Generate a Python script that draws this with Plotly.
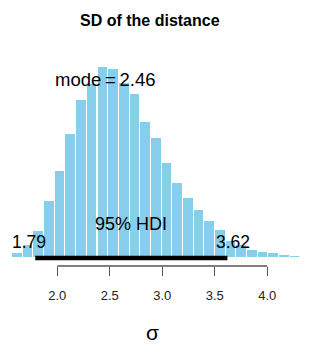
import plotly.graph_objects as go

# ---- data ----
bin_width = 0.10167
bin_left = [1.468, 1.570, 1.671, 1.773, 1.875, 1.976, 2.078, 2.180, 2.281, 2.383,
            2.485, 2.586, 2.688, 2.790, 2.891, 2.993, 3.095, 3.197, 3.298, 3.400,
            3.502, 3.603, 3.705, 3.807, 3.908, 4.010, 4.112, 4.213, 4.315, 4.417]
density = [0.006, 0.022, 0.063, 0.131, 0.277, 0.423, 0.604, 0.768, 0.847, 0.929,
           0.917, 0.852, 0.797, 0.661, 0.583, 0.463, 0.366, 0.292, 0.233, 0.180,
           0.136, 0.083, 0.063, 0.039, 0.029, 0.024, 0.016, 0.012, 0.007, 0.005]
hdi = [1.79, 3.62]
mode_val = 2.46
tick_vals = [2.0, 2.5, 3.0, 3.5, 4.0]
tick_text = ["2.0", "2.5", "3.0", "3.5", "4.0"]
title = "SD of the distance"
xlabel = "σ"

FONT = "Liberation Sans, Arial, sans-serif"

centers = [l + bin_width / 2 for l in bin_left]

fig = go.Figure()
fig.add_trace(go.Bar(
    x=centers, y=density, width=bin_width,
    marker=dict(color="#87CEEB", line=dict(color="white", width=1)),
    hoverinfo="skip", showlegend=False,
))
fig.add_trace(go.Scatter(
    x=hdi, y=[0, 0], mode="lines",
    line=dict(color="black", width=4.5),
    hoverinfo="skip", showlegend=False,
))

# axis line from first to last tick (R style)
fig.add_shape(type="line", xref="x", yref="paper",
              x0=tick_vals[0], x1=tick_vals[-1], y0=0, y1=0,
              line=dict(color="#555555", width=1.3))

anns = [
    dict(text=f"<b>{title}</b>", xref="paper", yref="paper", x=150 / 321, y=1.042,
         xanchor="center", yanchor="middle", font=dict(size=16)),
    dict(text=f"mode\u2009=\u2009{mode_val:.2f}", xref="x", yref="y", x=mode_val, y=0.870,
         xanchor="center", yanchor="middle", font=dict(size=18.5)),
    dict(text="95% HDI", xref="x", yref="y", x=sum(hdi) / 2, y=0,
         xanchor="center", yanchor="middle", yshift=34, font=dict(size=18)),
    dict(text=f"{hdi[0]:.2f}", xref="x", yref="y", x=hdi[0], y=0,
         xanchor="center", yanchor="middle", xshift=-6, yshift=16, font=dict(size=17.5)),
    dict(text=f"{hdi[1]:.2f}", xref="x", yref="y", x=hdi[1], y=0,
         xanchor="center", yanchor="middle", xshift=6, yshift=16, font=dict(size=17.5)),
    dict(text=xlabel, xref="paper", yref="paper", x=152 / 321, y=-0.283,
         xanchor="center", yanchor="middle", font=dict(size=21)),
]
for a in anns:
    a["showarrow"] = False
    a["font"]["family"] = FONT
    a["font"]["color"] = "black"
fig.update_layout(annotations=anns)

fig.update_layout(
    width=321, height=345,
    margin=dict(l=0, r=0, t=30, b=79, pad=0),
    paper_bgcolor="white", plot_bgcolor="white",
    bargap=0,
    xaxis=dict(range=[1.4543, 4.5114], tickvals=tick_vals, ticktext=tick_text,
               ticks="outside", ticklen=9, tickwidth=1.3, tickcolor="#555555",
               showline=False, showgrid=False, zeroline=False,
               tickfont=dict(family=FONT, size=13, color="#222222"),
               ticklabelstandoff=8),
    yaxis=dict(range=[-0.0389, 1.1084], visible=False, showgrid=False, zeroline=False),
)

fig.write_html("out.html")
